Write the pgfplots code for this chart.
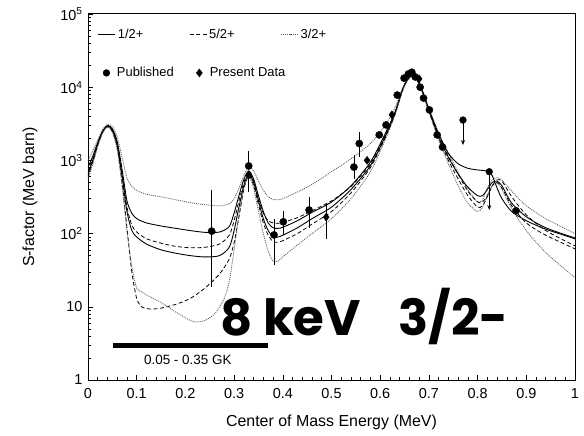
\documentclass[border=0pt]{standalone}
\usepackage{fontspec}
\setmainfont{Liberation Sans}
\newfontfamily\annfont{Poppins}
\usepackage{pgfplots}
\pgfplotsset{compat=1.18}
\usetikzlibrary{arrows.meta}
\definecolor{dotgray}{RGB}{90,90,90}
\tikzset{
  solidc/.style={black, line width=0.9pt, smooth, tension=0.45},
  dashc/.style={black, line width=0.8pt, dash pattern=on 4pt off 2.5pt, smooth, tension=0.45},
  dotc/.style={dotgray, line width=0.8pt, dash pattern=on 1pt off 1pt, smooth, tension=0.45},
}
\pgfplotsset{markleg/.style={legend image code/.code={\path[draw=none, fill=none] (0cm,-1pt) rectangle (0.6cm,1pt); \draw[##1, draw=none] plot coordinates {(0.3cm,0cm)};}}}
\begin{document}
\begin{tikzpicture}
\begin{axis}[
  name=ax,
  width=487bp, height=366bp, scale only axis,
  xmin=0, xmax=1, ymin=1, ymax=100000,
  ymode=log,
  axis line style={line width=1pt},
  tick pos=left, tick align=inside,
  xtick={0,0.1,0.2,0.3,0.4,0.5,0.6,0.7,0.8,0.9,1},
  xticklabels={0,0.1,0.2,0.3,0.4,0.5,0.6,0.7,0.8,0.9,1},
  minor x tick num=4,
  ytick={1,10,100,1000,10000,100000},
  yticklabels={1,10,10\textsuperscript{2},10\textsuperscript{3},10\textsuperscript{4},10\textsuperscript{5}},
  major tick length=5bp, minor tick length=3bp,
  every tick/.style={black, line width=0.6pt},
  /pgf/number format/assume math mode=true,
  tick label style={font=\fontsize{14.5}{16}\selectfont},
  xticklabel style={yshift=-5bp},
  yticklabel style={xshift=-2bp},
  xlabel={Center of Mass Energy (MeV)},
  ylabel={S-factor (MeV barn)},
  label style={font=\fontsize{16}{18}\selectfont},
  xlabel style={at={(axis description cs:0.5,-0.117)}, anchor=center},
  ylabel style={at={(axis description cs:-0.119,0.5)}, anchor=center},
  legend columns=3,
  legend style={draw=none, fill=none, inner sep=0pt,
    at={(axis description cs:0.02,0.945)}, anchor=west,
    font=\fontsize{13}{15}\selectfont,
    /tikz/every even column/.append style={column sep=44bp}},
  legend cell align=left,
]
\addlegendimage{black, line width=0.9pt}
\addlegendentry{1/2+}
\addlegendimage{black, line width=0.8pt, dash pattern=on 4pt off 2.5pt}
\addlegendentry{5/2+}
\addlegendimage{dotgray, line width=0.8pt, dash pattern=on 1pt off 1pt}
\addlegendentry{3/2+}

% E: 3/2+ upper (dotted)
\addplot[dotc, forget plot] coordinates {
(0,1000) (0.01,1350) (0.02,1900) (0.03,2650) (0.04,3100) (0.05,2900) (0.06,2100) (0.07,1100) (0.08,580) (0.09,440) (0.10,390) (0.12,345) (0.15,318) (0.18,290) (0.21,265) (0.24,248) (0.27,240) (0.29,255) (0.30,300) (0.31,420) (0.32,620) (0.33,820) (0.34,720) (0.35,520) (0.36,390) (0.37,320) (0.38,295) (0.39,290) (0.40,300) (0.43,370) (0.46,470) (0.50,700) (0.54,1050) (0.58,1700) (0.61,3000) (0.63,5200) (0.645,9500) (0.655,12800) (0.665,14700) (0.675,13200) (0.685,9800) (0.70,5200) (0.72,2400) (0.74,1250) (0.76,700) (0.78,400) (0.80,270) (0.81,290) (0.82,420) (0.83,540) (0.84,580) (0.85,540) (0.87,380) (0.90,240) (0.94,160) (1.0,100)};
% A: 1/2+ upper (solid)
\addplot[solidc, forget plot] coordinates {
(0,800) (0.01,1150) (0.02,1750) (0.03,2500) (0.04,3000) (0.05,2700) (0.06,1800) (0.07,750) (0.08,280) (0.09,190) (0.10,160) (0.12,140) (0.15,127) (0.18,118) (0.21,110) (0.24,104) (0.27,105) (0.29,125) (0.30,190) (0.31,330) (0.32,550) (0.33,720) (0.34,560) (0.35,330) (0.36,200) (0.37,140) (0.38,120) (0.39,118) (0.40,122) (0.43,150) (0.46,195) (0.50,270) (0.54,450) (0.58,950) (0.61,2300) (0.63,4500) (0.645,9000) (0.655,12500) (0.665,14500) (0.675,13000) (0.685,9500) (0.70,5000) (0.72,2300) (0.74,1250) (0.76,900) (0.78,780) (0.80,740) (0.81,730) (0.82,710) (0.83,620) (0.84,420) (0.85,300) (0.87,200) (0.90,150) (0.94,115) (1.0,85)};
% B: 1/2+ lower (solid)
\addplot[solidc, forget plot] coordinates {
(0,650) (0.01,1000) (0.02,1650) (0.03,2450) (0.04,2950) (0.05,2600) (0.06,1600) (0.07,600) (0.08,200) (0.09,110) (0.10,90) (0.12,72) (0.15,60) (0.18,54) (0.21,50) (0.24,48) (0.27,50) (0.29,65) (0.30,110) (0.31,230) (0.32,450) (0.33,650) (0.34,500) (0.35,280) (0.36,160) (0.37,110) (0.38,90) (0.39,90) (0.40,95) (0.43,120) (0.46,160) (0.50,230) (0.54,400) (0.58,850) (0.61,2100) (0.63,4300) (0.645,8800) (0.655,12300) (0.665,14400) (0.675,12800) (0.685,9300) (0.70,4800) (0.72,2100) (0.74,1100) (0.76,650) (0.78,430) (0.80,330) (0.81,330) (0.82,400) (0.83,500) (0.84,520) (0.85,450) (0.87,260) (0.90,170) (0.94,120) (1.0,87)};
% C: 5/2+ upper (dashed)
\addplot[dashc, forget plot] coordinates {
(0,700) (0.01,1050) (0.02,1700) (0.03,2500) (0.04,2950) (0.05,2600) (0.06,1650) (0.07,650) (0.08,230) (0.09,130) (0.10,105) (0.12,85) (0.15,74) (0.18,67) (0.21,64) (0.24,65) (0.27,72) (0.29,95) (0.30,150) (0.31,280) (0.32,500) (0.33,680) (0.34,520) (0.35,300) (0.36,190) (0.37,150) (0.38,140) (0.39,138) (0.40,142) (0.43,165) (0.46,205) (0.50,280) (0.54,440) (0.58,900) (0.61,2200) (0.63,4400) (0.645,8900) (0.655,12400) (0.665,14400) (0.675,12900) (0.685,9400) (0.70,4900) (0.72,2200) (0.74,1150) (0.76,650) (0.78,380) (0.80,270) (0.81,270) (0.82,330) (0.83,450) (0.84,540) (0.85,520) (0.87,320) (0.90,180) (0.94,110) (1.0,68)};
% D: 5/2+ lower (dashed)
\addplot[dashc, forget plot] coordinates {
(0,600) (0.01,950) (0.02,1600) (0.03,2400) (0.04,2900) (0.05,2500) (0.06,1500) (0.07,500) (0.08,120) (0.09,30) (0.10,13) (0.11,10) (0.12,9.5) (0.13,9.3) (0.15,9.6) (0.18,10.8) (0.21,13) (0.24,18) (0.27,28) (0.29,45) (0.30,75) (0.31,170) (0.32,400) (0.33,620) (0.34,460) (0.35,250) (0.36,140) (0.37,95) (0.38,78) (0.39,76) (0.40,80) (0.43,100) (0.46,135) (0.50,200) (0.54,360) (0.58,800) (0.61,2000) (0.63,4200) (0.645,8700) (0.655,12200) (0.665,14300) (0.675,12700) (0.685,9200) (0.70,4700) (0.72,2000) (0.74,1000) (0.76,560) (0.78,330) (0.80,230) (0.81,240) (0.82,320) (0.83,450) (0.84,500) (0.85,420) (0.87,240) (0.90,140) (0.94,95) (1.0,62)};
% F: 3/2+ lower (dotted)
\addplot[dotc, forget plot] coordinates {
(0,550) (0.01,900) (0.02,1550) (0.03,2350) (0.04,2850) (0.05,2400) (0.06,1400) (0.07,450) (0.08,110) (0.09,35) (0.10,18) (0.11,16) (0.12,14.5) (0.15,11.5) (0.18,8.5) (0.21,6.5) (0.22,6.2) (0.24,6.5) (0.26,8) (0.27,10) (0.28,13) (0.29,22) (0.30,60) (0.31,180) (0.32,420) (0.33,600) (0.34,420) (0.35,200) (0.36,100) (0.37,58) (0.38,42) (0.39,42) (0.40,48) (0.43,70) (0.46,100) (0.50,160) (0.54,300) (0.58,700) (0.61,1900) (0.63,4100) (0.645,8600) (0.655,12100) (0.665,14200) (0.675,12600) (0.685,9100) (0.70,4600) (0.72,1900) (0.74,900) (0.76,450) (0.78,260) (0.80,200) (0.81,230) (0.82,330) (0.83,460) (0.84,490) (0.85,400) (0.87,220) (0.90,110) (0.94,55) (1.0,25)};

% Published data (circles) with error bars
\addplot[only marks, mark=*, mark size=3.6bp, black, forget plot,
  error bars/.cd, y dir=both, y explicit,
  error bar style={line width=0.6pt},
  error mark options={black, mark size=2.5bp, line width=0.6pt}]
  table[x=x, y=y, y error plus=ep, y error minus=em] {
x y ep em
0.254 108 262 88
0.330 840 390 0
0.382 96 49 56
0.401 145 45 40
0.454 210 80 80
0.546 810 290 210
0.557 1700 540 500
0.598 2230 0 0
0.612 3050 0 0
0.635 7800 0 0
0.649 13300 0 0
0.658 15200 0 0
0.665 16000 0 0
0.672 13800 0 0
0.682 10000 0 0
0.689 7100 0 0
0.701 4900 0 0
0.717 2230 0 0
0.728 1520 0 0
0.879 205 0 0
};
% Present data (diamonds) with error bars
\addplot[only marks, mark=diamond*, mark size=4bp, black, forget plot,
  error bars/.cd, y dir=both, y explicit,
  error bar style={line width=0.6pt},
  error mark options={black, mark size=2.5bp, line width=0.6pt}]
  table[x=x, y=y, y error plus=ep, y error minus=em] {
x y ep em
0.330 630 0 235
0.489 168 77 78
0.573 1000 0 0
0.624 4200 0 0
0.680 13000 0 0
};
% Upper limits (arrows)
\addplot[only marks, mark=*, mark size=3.4bp, black, forget plot,
  error bars/.cd, y dir=minus, y explicit,
  error mark=none,
  error bar style={line width=0.7pt, -{Stealth[length=5bp,width=4bp]}}]
  table[x=x, y=y, y error minus=em] {
x y em
0.770 3560 1940
0.824 700 490
};
% temperature range bar
\addplot[black, line width=5bp, forget plot] coordinates {(0.051,2.95) (0.369,2.95)};
\node[font=\fontsize{13.5}{15}\selectfont, anchor=center] at (axis cs:0.205,1.88) {0.05 - 0.35 GK};
\node[font=\annfont\bfseries\fontsize{50}{50}\selectfont, anchor=base west, inner sep=0pt] at (axis cs:0.271,4.0) {8 keV};
\node[font=\annfont\bfseries\fontsize{50}{50}\selectfont, anchor=base west, inner sep=0pt] at (axis cs:0.637,4.0) {3/2-};
\end{axis}
\begin{axis}[
  at={(ax.south west)}, anchor=south west,
  width=487bp, height=366bp, scale only axis,
  xmin=0, xmax=1, ymin=0, ymax=1, hide axis,
  legend columns=2,
  legend style={draw=none, fill=none, inner sep=0pt,
    at={(axis description cs:0.02,0.839)}, anchor=west,
    font=\fontsize{13}{15}\selectfont,
    /tikz/every even column/.append style={column sep=15bp}},
  legend cell align=left,
]
\addlegendimage{only marks, mark=*, mark size=3.4bp, black, markleg}
\addlegendentry{Published}
\addlegendimage{only marks, mark=diamond*, mark size=4bp, black, markleg}
\addlegendentry{Present Data}
\end{axis}
\pgfresetboundingbox
\path[use as bounding box] ([shift={(-88bp,-56bp)}]ax.south west) rectangle ([shift={(9bp,14bp)}]ax.north east);
\end{tikzpicture}
\end{document}
